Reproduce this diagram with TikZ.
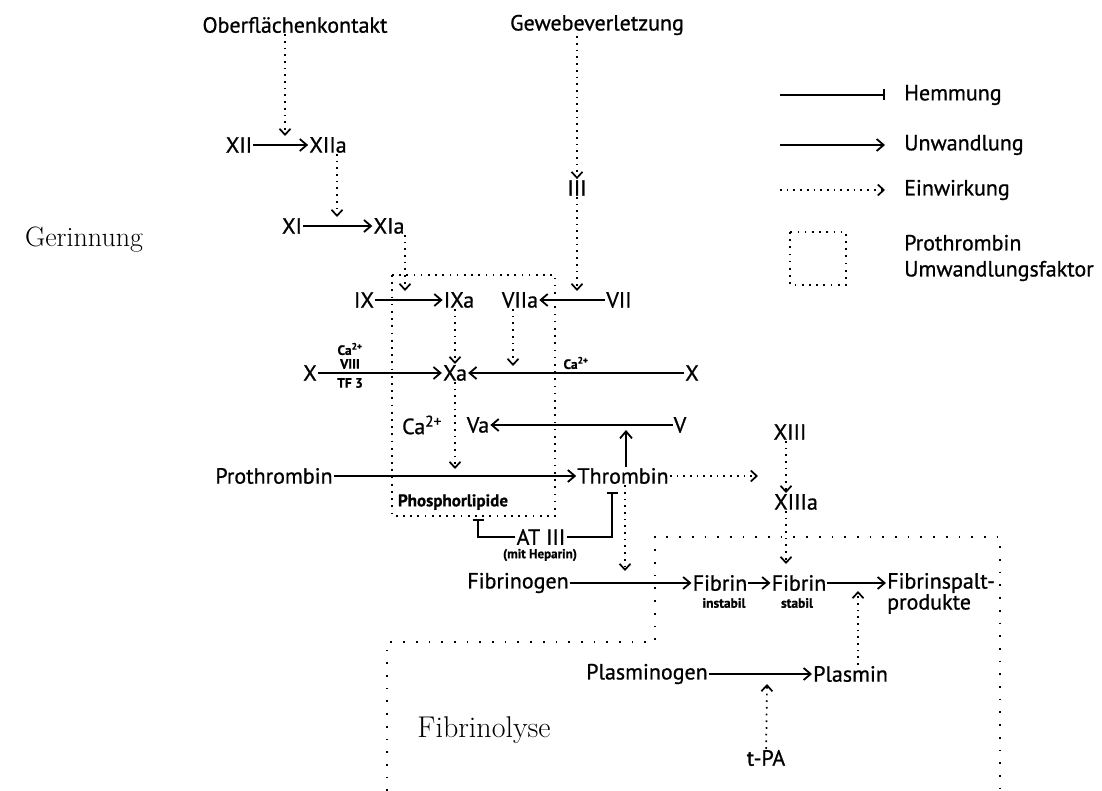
\documentclass[tikz,border=0pt]{standalone}
\usepackage{fontspec}
\usepackage{tikz}
\usetikzlibrary{arrows.meta}
\newfontfamily\labfont[FakeBold=0.8]{PT Sans}

\tikzset{
  conv/.style={-{Straight Barb[length=7pt,width=12pt]}, line width=1.8pt},
  act/.style={-{Straight Barb[length=6pt,width=11pt]}, line width=1.7pt, dash pattern=on 1.7pt off 5pt},
  inhib/.style={-{Bar[width=11pt]}, line width=1.8pt},
  pufbox/.style={line width=1.7pt, dash pattern=on 1.7pt off 5.5pt},
  region/.style={line width=1.7pt, dash pattern=on 1.7pt off 11pt},
  small/.style={font=\labfont\bfseries\fontsize{13.5}{15}\selectfont, inner sep=0pt},
  big/.style={font=\fontsize{28}{32}\selectfont}
}

\begin{document}
\begin{tikzpicture}[x=1pt, y=-1pt, every node/.style={font=\labfont\fontsize{22}{26}\selectfont, inner sep=1pt}]
    \useasboundingbox (0,0) rectangle (1102,791);

    % Bereiche
    \node[big] (gerinnung) at (84,240) {Gerinnung};
    \node[big, font=\fontsize{30}{34}\selectfont] (fibrinolyse) at (484,730) {Fibrinolyse};

    % Ausloeser
    \node (ober) at (295,25) {Oberflächenkontakt};
    \node (gewebe) at (597,25) {Gewebeverletzung};

    % Faktoren
    \node (xii) at (239,145) {XII};
    \node (xiia) at (328,145) {XIIa};
    \node (xi) at (292,226) {XI};
    \node (xia) at (389,226) {XIa};
    \node (iii) at (577,188) {III};
    \node (ix) at (364,300) {IX};
    \node (ixa) at (459,300) {IXa};
    \node (viia) at (520,300) {VIIa};
    \node (vii) at (619,300) {VII};
    \node (xl) at (310,373) {X};
    \node (xa) at (455,373) {Xa};
    \node (xr) at (692,373) {X};
    \node[small] (cal) at (350,349) {Ca\textsuperscript{2+}};
    \node[small] (viii) at (350,364) {VIII};
    \node[small] (tf) at (350,383) {TF 3};
    \node[small] (car) at (576,363) {Ca\textsuperscript{2+}};
    \node (ca) at (422,425) {Ca\textsuperscript{2+}};
    \node (va) at (478,425) {Va};
    \node (v) at (680,425) {V};
    \node (prothr) at (274,476) {Prothrombin};
    \node (thromb) at (623,476) {Thrombin};
    \node[font=\labfont\bfseries\fontsize{17}{19}\selectfont] (phos) at (453,502) {Phosphorlipide};
    \node (xiii) at (790,432) {XIII};
    \node (xiiia) at (796,502) {XIIIa};
    \node (at) at (541,537) {AT III};
    \node[font=\labfont\bfseries\fontsize{13}{14}\selectfont, inner sep=0pt] (hep) at (540,555) {(mit Heparin)};
    \node (fibrinogen) at (518,583) {Fibrinogen};
    \node (fibi) at (720,583) {Fibrin};
    \node[small] (instabil) at (724,603) {instabil};
    \node (fibs) at (799,583) {Fibrin};
    \node[small] (stabil) at (797,603) {stabil};
    \node[anchor=west] (fsp) at (886,583) {Fibrinspalt-};
    \node[anchor=west] (prod) at (886,604) {produkte};
    \node (plg) at (647,674) {Plasminogen};
    \node[anchor=west] (plm) at (812,674) {Plasmin};
    \node (tpa) at (766,758) {t-PA};

    % Hilfspunkte
    \coordinate (c1) at (285,136);
    \coordinate (c2) at (337,217);
    \coordinate (c4) at (577,291);
    \coordinate (c5) at (405,291);
    \coordinate (c6) at (513,366);
    \coordinate (c7) at (455,469);
    \coordinate (c8) at (626,430);
    \coordinate (c9) at (758,476);
    \coordinate (c10) at (786,564);
    \coordinate (c11) at (625,571);
    \coordinate (c12) at (858,591);
    \coordinate (c13) at (767,684);
    \coordinate (h1) at (478,519);
    \coordinate (h2) at (612,492);

    % Umwandlung
    \draw[conv] (xii) -- (xiia);
    \draw[conv] (xi) -- (xia);
    \draw[conv] (ix) -- (ixa);
    \draw[conv] (vii) -- (viia);
    \draw[conv] (xl) -- (xa);
    \draw[conv] (xr) -- (xa);
    \draw[conv] (v) -- (va);
    \draw[conv] (prothr) -- (thromb);
    \draw[conv] (thromb.north -| c8) -- (c8);
    \draw[conv] (fibrinogen) -- (fibi);
    \draw[conv] (fibi) -- (fibs);
    \draw[conv] (fibs) -- (fsp);
    \draw[conv] (plg) -- (plm);

    % Einwirkung
    \draw[act] (ober.south -| c1) -- (c1);
    \draw[act] (xiia.south -| c2) -- (c2);
    \draw[act] (gewebe.south -| iii) -- (iii);
    \draw[act] (iii) -- (c4);
    \draw[act] (xia.south -| c5) -- (c5);
    \draw[act] (ixa.south -| xa) -- (xa);
    \draw[act] (viia.south -| c6) -- (c6);
    \draw[act] (xa) -- (c7);
    \draw[act] (thromb) -- (c9);
    \draw[act] (xiii.south -| c10) -- (xiiia.north -| c10);
    \draw[act] (xiiia.south -| c10) -- (c10);
    \draw[act] (thromb.south -| c11) -- (c11);
    \draw[act] (plm.north -| c12) -- (c12);
    \draw[act] (tpa) -- (c13);

    % Hemmung
    \draw[inhib] (at.west) -| (h1);
    \draw[inhib] (at.east) -| (h2);

    % Prothrombin-Umwandlungsfaktor
    \draw[pufbox] (392,275) rectangle (555,516);

    % Fibrinolyse-Bereich
    \draw[region] (387,791) -- (387,642) -- (655,642) -- (655,537) -- (1000,537) -- (1000,791);

    % Legende
    \coordinate (l1a) at (780,95);  \coordinate (l1b) at (885,95);
    \coordinate (l2a) at (780,145); \coordinate (l2b) at (885,145);
    \coordinate (l3a) at (780,190); \coordinate (l3b) at (885,190);
    \draw[inhib] (l1a) -- (l1b);
    \draw[conv] (l2a) -- (l2b);
    \draw[act] (l3a) -- (l3b);
    \node[anchor=west] (lhem) at (903,95) {Hemmung};
    \node[anchor=west] (lumw) at (903,145) {Unwandlung};
    \node[anchor=west] (lein) at (903,190) {Einwirkung};
    \draw[pufbox] (790,232) rectangle (846,285);
    \node[anchor=west, align=left] (lpuf) at (903,258) {Prothrombin\\Umwandlungsfaktor};
\end{tikzpicture}
\end{document}
